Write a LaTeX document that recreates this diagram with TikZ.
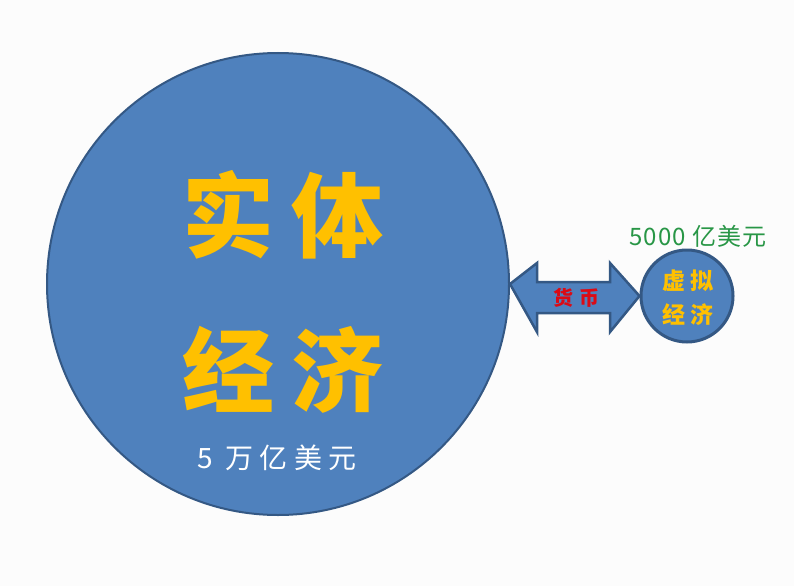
\documentclass[tikz,border=0pt]{standalone}
\usepackage{fontspec}
\newfontfamily\cjk{Noto Sans CJK SC}
\usetikzlibrary{positioning}
\definecolor{ballblue}{RGB}{79,129,189}
\definecolor{rimblue}{RGB}{52,88,132}
\definecolor{goldtext}{RGB}{255,192,0}
\definecolor{moneyred}{RGB}{220,10,20}
\definecolor{sumgreen}{RGB}{40,150,70}
\definecolor{paper}{RGB}{252,252,252}

\begin{document}
\begin{tikzpicture}
  [x=1pt,y=-1pt,
   ball/.style={shape=circle,fill=ballblue,draw=rimblue,inner sep=0pt},
   gold/.style={text=goldtext,font=\cjk\bfseries,inner sep=0pt}]
\fill[paper] (0,0) rectangle (794,586);
\useasboundingbox (0,0) rectangle (794,586);
\node[ball,line width=2pt,minimum size=462pt] (real) at (278,284) {};
\node[ball,line width=3pt,minimum size=92pt] (virtual) at (687,296) {};
% block arrow between the two balls
\coordinate (tipL) at (real.east);
\coordinate (tipR) at (virtual.west);
\draw[fill=ballblue,draw=rimblue,line width=2.5pt,line join=miter]
  (tipL) -- (537,263) -- (537,282) -- (610,282) -- (610,263) -- (tipR)
  -- (610,332) -- (610,313) -- (537,313) -- (537,332) -- cycle;
\node[text=moneyred,font=\cjk\bfseries\fontsize{20}{20}\selectfont\addfontfeatures{LetterSpace=30}] (money) at (576,298) {货币};
% texts
\node[gold,font=\cjk\bfseries\fontsize{92}{92}\selectfont\addfontfeatures{LetterSpace=19}] (line1) at (283,215) {实体};
\node[gold,font=\cjk\bfseries\fontsize{92}{92}\selectfont\addfontfeatures{LetterSpace=19}] (line2) at (283,370) {经济};
\node[text=white,font=\cjk\fontsize{28}{28}\selectfont\addfontfeatures{LetterSpace=22}] (bigsum) at (277,458) {5 万亿美元};
\node[gold,font=\cjk\bfseries\fontsize{23}{23}\selectfont\addfontfeatures{LetterSpace=22}] (vline1) at (688,281) {虚拟};
\node[gold,font=\cjk\bfseries\fontsize{23}{23}\selectfont\addfontfeatures{LetterSpace=22}] (vline2) at (688,315) {经济};
\node[text=sumgreen,font=\cjk\fontsize{24}{24}\selectfont\addfontfeatures{LetterSpace=5}] (smallsum) at (698,236) {5000 亿美元};
\end{tikzpicture}
\end{document}
